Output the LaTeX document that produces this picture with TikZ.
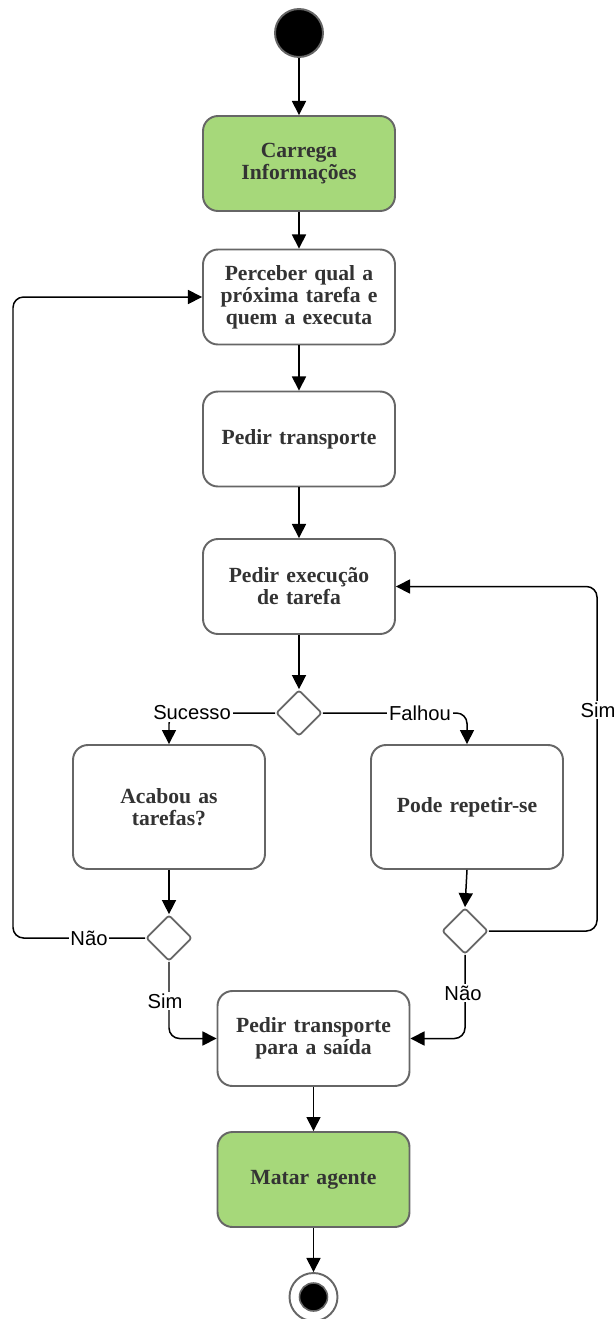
\documentclass[tikz,border=0pt]{standalone}
\usepackage{fontspec}
\setmainfont{Liberation Serif}
\newfontfamily\labelfont{Liberation Sans}
\usetikzlibrary{arrows.meta,shapes.geometric}
\definecolor{actgreen}{HTML}{A6D87A}
\definecolor{edgegray}{HTML}{666666}
\definecolor{txtgray}{HTML}{333333}
\tikzset{
  activity/.style={draw=edgegray, line width=1.1pt, rounded corners=8.5pt, fill=white,
    minimum width=3.84cm, minimum height=1.9cm, align=center, text width=3.4cm,
    font=\bfseries\fontsize{12.3}{12.5}\selectfont, text=txtgray, inner sep=0pt},
  greenact/.style={activity, fill=actgreen},
  tallact/.style={activity, minimum height=2.48cm},
  decision/.style={draw=edgegray, line width=1pt, diamond, fill=white, inner sep=0pt,
    minimum width=0.92cm, minimum height=0.92cm, rounded corners=1.5pt},
  flow/.style={line width=0.85pt, -{Triangle[length=8pt,width=8pt]}, rounded corners=6pt},
  guard/.style={fill=white, inner sep=1pt, font=\labelfont\fontsize{11.5}{12}\selectfont, text=black}
}
\begin{document}
\begin{tikzpicture}[x=0.02cm, y=-0.02cm]
\useasboundingbox (0,0) rectangle (614,1319);

% start / end markers
\node[circle, draw=edgegray, line width=1.1pt, fill=black, minimum size=0.96cm, inner sep=0pt] (start) at (299,33) {};
\node[circle, draw=edgegray, line width=1.1pt, fill=white, minimum size=0.96cm, inner sep=0pt] (finish) at (313.5,1297) {};
\node[circle, draw=edgegray, line width=0.9pt, fill=black, minimum size=0.56cm, inner sep=0pt] (finishdot) at (313.5,1297) {};

% activities
\node[greenact] (load) at (299,163.5) {Carrega\\Informações};
\node[activity] (next) at (299,297) {Perceber qual a\\próxima tarefa e\\quem a executa};
\node[activity] (transp) at (299,439) {Pedir transporte};
\node[activity] (exec) at (299,586.5) {Pedir execução\\de tarefa};
\node[tallact] (done) at (169,807) {Acabou as\\tarefas?};
\node[tallact] (retry) at (467,807) {Pode repetir-se};
\node[activity] (exit) at (313.5,1038.5) {Pedir transporte\\para a saída};
\node[greenact] (kill) at (313.5,1179.5) {Matar agente};

% decisions
\node[decision] (d1) at (299,713) {};
\node[decision] (d2) at (169,938) {};
\node[decision] (d3) at (465,931) {};

% outer rails of the loop-back branches
\coordinate (leftrail) at (13,938);
\coordinate (rightrail) at (597,931);

% main sequence
\draw[flow] (start) -- (load);
\draw[flow] (load) -- (next);
\draw[flow] (next) -- (transp);
\draw[flow] (transp) -- (exec);
\draw[flow] (exec) -- (d1);
\draw[flow] (exit) -- (kill);
\draw[flow] (kill) -- (finish);

% first decision
\draw[flow] (d1.west) -| (done.north);
\node[guard] at (192,713) {Sucesso};
\draw[flow] (d1.east) -| (retry.north);
\node[guard] at (420,713) {Falhou};

% tasks finished?
\draw[flow] (done) -- (d2);
\draw[flow] (d2.west) -- (leftrail) |- (next.west);
\node[guard] at (89,938) {Não};
\draw[flow] (d2.south) |- (exit.west);
\node[guard] at (165,1001) {Sim};

% can be retried?
\draw[flow] (retry.south) -- (d3.north);
\draw[flow] (d3.east) -- (rightrail) |- (exec.east);
\node[guard] at (598,710) {Sim};
\draw[flow] (d3.south) |- (exit.east);
\node[guard] at (463,993) {Não};
\end{tikzpicture}
\end{document}
